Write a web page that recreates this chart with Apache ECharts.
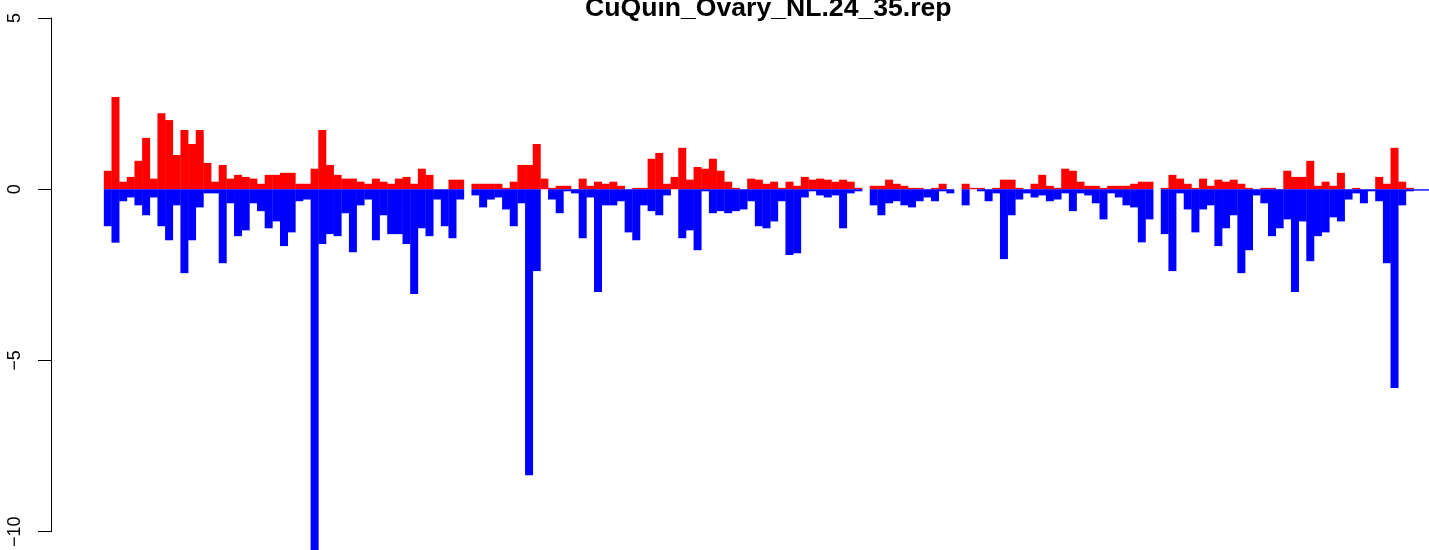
<!DOCTYPE html>
<html>
<head>
<meta charset="utf-8">
<script src="https://cdn.jsdelivr.net/npm/echarts@6/dist/echarts.min.js"></script>
<style>
html,body{margin:0;padding:0;background:#fff;}
#chart{width:1429px;height:550px;}
</style>
</head>
<body>
<div id="chart"></div>
<script>
var chartTitle = 'CuQuin_Ovary_NL.24_35.rep';
var yTicks = [-10, -5, 0, 5];

var upValues = [
0.54,2.69,0.22,0.36,0.83,1.50,0.31,2.22,2.02,1.00,
1.73,1.32,1.73,0.77,0.22,0.71,0.31,0.42,0.36,0.31,
0.16,0.42,0.42,0.48,0.48,0.16,0.16,0.60,1.73,0.71,
0.42,0.31,0.31,0.22,0.16,0.31,0.22,0.16,0.31,0.36,
0.16,0.60,0.42,0,0,0.28,0.28,0,0.16,0.16,
0.16,0.16,0.04,0.22,0.71,0.71,1.32,0.31,0.04,0.10,
0.10,0,0.31,0.10,0.22,0.16,0.22,0.10,0,0.04,
0.04,0.89,1.06,0.16,0.36,1.21,0.28,0.65,0.60,0.89,
0.54,0.22,0.04,0,0.31,0.28,0.16,0.22,0.04,0.22,
0.10,0.36,0.28,0.31,0.28,0.22,0.28,0.22,0.04,0,
0.10,0.10,0.28,0.16,0.10,0.04,0.04,0,0.04,0.16,
0,0,0.16,0.04,0.04,0,0.04,0.28,0.28,0.04,
0,0.16,0.42,0.10,0.04,0.60,0.54,0.22,0.10,0.10,
0.04,0.10,0.10,0.10,0.16,0.22,0.22,0,0.04,0.42,
0.31,0.16,0.04,0.31,0.10,0.28,0.22,0.28,0.16,0.04,
0,0.04,0.04,0,0.54,0.36,0.36,0.83,0.10,0.22,
0.10,0.48,0,0.04,0,0,0.36,0.16,1.21,0.22,
0.04,0,0
];

var downValues = [
-1.08,-1.56,-0.35,-0.24,-0.47,-0.76,-0.24,-1.08,-1.49,-0.47,
-2.45,-1.49,-0.53,-0.12,-0.12,-2.16,-0.41,-1.37,-1.20,-0.41,
-0.64,-1.14,-0.94,-1.66,-1.26,-0.35,-0.30,-10.6,-1.60,-1.31,
-1.37,-0.70,-1.84,-0.47,-0.30,-1.49,-0.76,-1.31,-1.31,-1.60,
-3.06,-1.14,-1.37,-0.30,-1.08,-1.43,-0.30,0,-0.18,-0.53,
-0.30,-0.24,-0.59,-1.08,-0.41,-8.35,-2.39,0,-0.30,-0.70,
-0.06,-0.12,-1.43,-0.24,-3.00,-0.47,-0.47,-0.35,-1.26,-1.49,
-0.47,-0.64,-0.76,-0.18,0,-1.43,-1.20,-1.78,-0.06,-0.70,
-0.64,-0.70,-0.64,-0.59,-0.35,-1.08,-1.14,-0.94,-0.35,-1.92,
-1.87,-0.24,-0.06,-0.18,-0.24,-0.18,-1.14,-0.12,-0.06,0,
-0.47,-0.76,-0.41,-0.35,-0.47,-0.53,-0.35,-0.24,-0.35,-0.06,
-0.12,0,-0.47,0,-0.06,-0.35,-0.12,-2.04,-0.76,-0.30,
-0.12,-0.24,-0.18,-0.35,-0.30,-0.12,-0.64,-0.12,-0.18,-0.41,
-0.88,-0.12,-0.24,-0.47,-0.53,-1.55,-0.88,0,-1.31,-2.39,
-0.12,-0.59,-1.26,-0.59,-0.47,-1.66,-1.14,-0.76,-2.45,-1.78,
-0.18,-0.41,-1.37,-1.14,-0.88,-3.00,-0.94,-2.10,-1.37,-1.26,
-0.82,-0.94,-0.30,-0.12,-0.41,-0.06,-0.35,-2.16,-5.8,-0.47,
-0.06,-0.04,-0.04
];

var categories = [];
for (var i = 0; i < upValues.length; i++) { categories.push(String(i + 1)); }

var chart = echarts.init(document.getElementById('chart'), null, {renderer: 'canvas'});
chart.setOption({
  animation: false,
  backgroundColor: '#ffffff',
  graphic: [{
    type: 'text',
    left: 585,
    top: -5,
    style: {
      text: chartTitle,
      fontFamily: 'Liberation Sans',
      fontWeight: 'bold',
      fontSize: 26.6,
      fill: '#000000'
    }
  }],
  grid: {
    left: 104,
    top: 18,
    width: 1328,
    bottom: 15,
    containLabel: false
  },
  xAxis: {
    type: 'category',
    data: categories,
    show: false,
    boundaryGap: true
  },
  yAxis: {
    type: 'value',
    min: yTicks[0],
    max: yTicks[yTicks.length - 1],
    interval: 5,
    offset: 53,
    axisLine: {show: true, lineStyle: {color: '#000', width: 1}},
    axisTick: {show: true, length: 13, lineStyle: {color: '#000', width: 1}},
    splitLine: {show: false},
    axisLabel: {
      rotate: 90,
      margin: 27,
      fontFamily: 'Liberation Sans',
      fontSize: 18,
      color: '#000',
      formatter: function (v) { return String(v).replace('-', '\u2212'); }
    }
  },
  series: [
    {
      name: 'up',
      type: 'bar',
      data: upValues,
      barWidth: 8,
      barGap: '-100%',
      itemStyle: {color: '#ff0000'},
      clip: false
    },
    {
      name: 'down',
      type: 'bar',
      data: downValues,
      barWidth: 8,
      barGap: '-100%',
      itemStyle: {color: '#0000ff'},
      clip: false
    }
  ]
});
</script>
</body>
</html>
